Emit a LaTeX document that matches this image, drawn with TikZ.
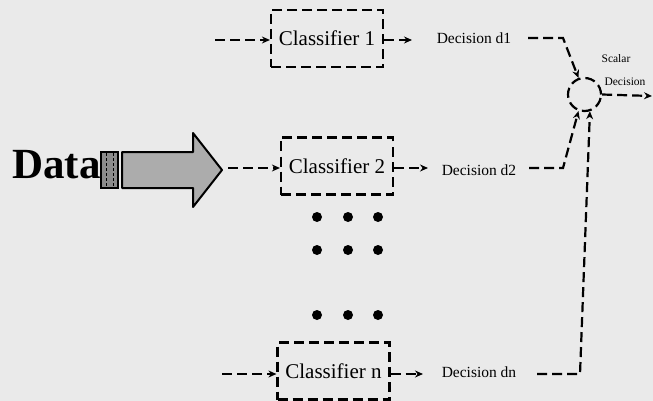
\documentclass[tikz,border=0pt]{standalone}
\usepackage{fontspec}
\setmainfont{Liberation Serif}
\usetikzlibrary{arrows.meta}
\definecolor{bg}{RGB}{234,234,234}
\definecolor{bigarrow}{RGB}{172,172,172}
\definecolor{stripe}{RGB}{140,140,140}
\tikzset{
  dsh/.style={line width=2.2pt, dash pattern=on 10pt off 5pt},
  clsbox/.style={draw, dsh, minimum width=112pt, minimum height=57pt, inner sep=0pt,
    font=\fontsize{21}{24}\selectfont},
  conn/.style={dsh, -{Stealth[length=8pt,width=7pt]}},
  declabel/.style={inner sep=0pt, font=\fontsize{15.5}{18}\selectfont},
  smalllabel/.style={inner sep=0pt, font=\fontsize{11.5}{13}\selectfont},
  sumnode/.style={draw, dsh, circle, minimum size=33pt, inner sep=0pt},
  dot/.style={fill=black}
}
\begin{document}
\begin{tikzpicture}[x=1pt,y=-1pt]
\fill[bg] (0,0) rectangle (653,401);
\useasboundingbox (0,0) rectangle (653,401);

% Data arrow
\node[anchor=base west, inner sep=0pt, font=\fontsize{43}{48}\selectfont\bfseries] (data) at (12,178) {Data};
\draw[line width=1.8pt, fill=stripe] (101,152) rectangle (118,188);
\draw[line width=1pt, dash pattern=on 3pt off 2pt] (106,153) -- (106,187) (113,153) -- (113,187);
\draw[line width=2pt, fill=bigarrow, line join=round]
  (122,152) -- (193,152) -- (193,133) -- (222,170) -- (193,207) -- (193,188) -- (122,188) -- cycle;

% Classifiers
\node[clsbox] (c1) at (327,38.5) {Classifier 1};
\node[clsbox] (c2) at (337,166) {Classifier 2};
\node[clsbox] (cn) at (333.5,371) {Classifier n};

% inputs
\coordinate (i1) at (215,40);
\coordinate (i2) at (228,168);
\coordinate (in) at (222,374);
\draw[conn] (i1) -- (i1 -| c1.west);
\draw[conn] (i2) -- (i2 -| c2.west);
\draw[conn] (in) -- (in -| cn.west);

% outputs
\coordinate (o1) at (412,40);
\coordinate (o2) at (428,168);
\coordinate (on) at (423,374);
\draw[conn] (o1 -| c1.east) -- (o1);
\draw[conn] (o2 -| c2.east) -- (o2);
\draw[conn] (on -| cn.east) -- (on);

% decision labels
\node[declabel] (d1) at (474,38) {Decision d1};
\node[declabel] (d2) at (479,170) {Decision d2};
\node[declabel] (dn) at (479,372) {Decision dn};

% combiner
\node[sumnode] (sum) at (584.5,94.5) {};
\node[smalllabel] (scalar) at (616,59) {Scalar};
\node[smalllabel] (scdec) at (625,82) {Decision};

\coordinate (a1) at (528,38);
\coordinate (b1) at (563,38);
\coordinate (a2) at (529,168);
\coordinate (b2) at (563,168);
\coordinate (an) at (537,374);
\coordinate (bn) at (580,374);
\coordinate (out) at (652,96);
\draw[conn] (a1) -- (b1) -- (sum.110);
\draw[conn] (a2) -- (b2) -- (sum.250);
\draw[conn] (an) -- (bn) -- (sum.288);
\draw[conn] (sum.east) -- (out);

% dots
\foreach \y in {217,250,315}{
  \foreach \x in {317,348,378}{
    \fill[dot] (\x,\y) circle (5pt);
  }
}
\end{tikzpicture}
\end{document}
